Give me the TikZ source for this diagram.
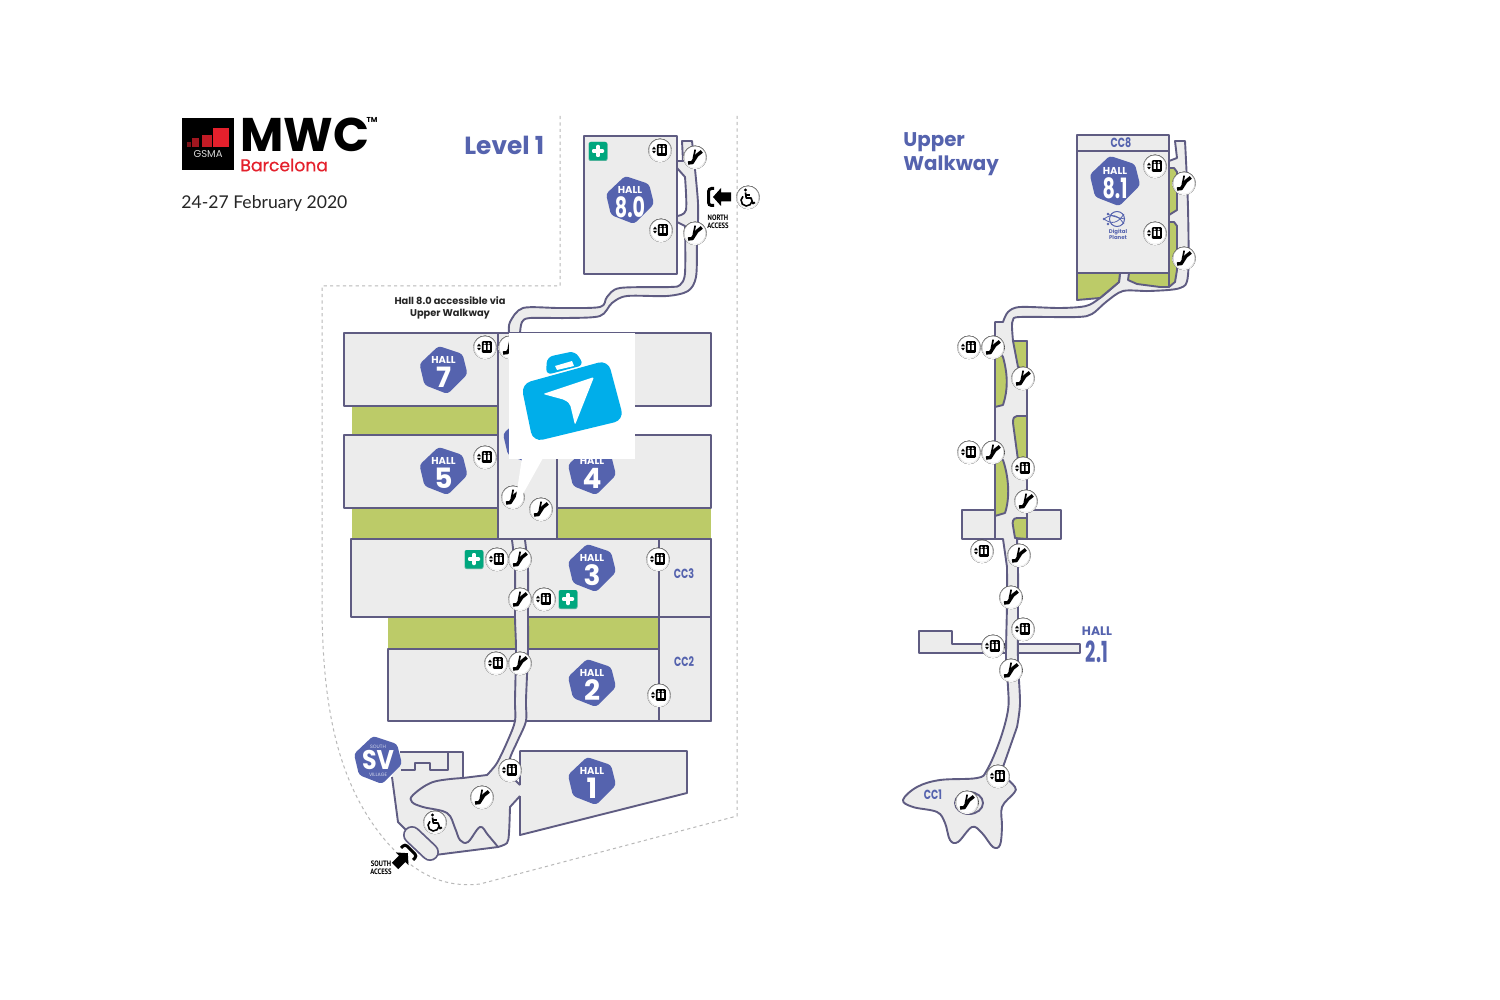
\documentclass[tikz,border=0pt]{standalone}
\usepackage{graphicx}
\usepackage{fontspec}
\setmainfont{Poppins}
\newfontfamily\cond{PT Sans}
\newfontfamily\lat{Lato}
\newfontfamily\popm[FakeBold=0.35]{Poppins}
\definecolor{hallgray}{HTML}{ECECEC}
\definecolor{edgec}{HTML}{5F5C82}
\definecolor{blueb}{HTML}{5563AE}
\definecolor{greenz}{HTML}{BCCB68}
\definecolor{plusg}{HTML}{00A77E}
\definecolor{shade}{HTML}{C4C4C4}
\definecolor{caseblue}{HTML}{00AEEA}
\definecolor{mwcred}{HTML}{E4202C}
\newcommand\fs[1]{\fontsize{#1}{#1}\selectfont}
\newcommand\fsb[2]{\fontsize{#1}{#2}\selectfont}
\tikzset{
  hallbox/.style={fill=hallgray,draw=edgec,line width=0.95pt,line join=round},
  hline/.style={draw=edgec,line width=0.95pt,line join=round},
  greenbox/.style={fill=greenz},
  greenedge/.style={fill=greenz,draw=edgec,line width=0.95pt,line join=round},
  bound/.style={draw=black!28,line width=0.5pt,dash pattern=on 1.6pt off 1.6pt},
  bluet/.style={text=blueb,inner sep=0pt,font=\bfseries},
  cclabel/.style={text=blueb,inner sep=0pt,font=\bfseries\fs{6.6},xscale=0.72},
  lift/.pic={
    \fill[shade] (0,0.4) circle (11.8);
    \fill[white] (0,0) circle (10.6);
    \fill[black,rounded corners=0.5pt] (-3.2,-5.8) rectangle (6.8,5.8);
    \fill[white] (-1.4,-2.2) rectangle (0.8,2.8) (2.6,-2.2) rectangle (4.8,2.8);
    \fill[white] (-0.3,-3.6) circle (1.1) (3.7,-3.6) circle (1.1);
    \fill[black] (-8,-0.7) -- (-6,-3.4) -- (-4,-0.7) -- cycle;
    \fill[black] (-8,0.8) -- (-6,3.5) -- (-4,0.8) -- cycle;
  },
  esc/.pic={
    \fill[shade] (0,0.4) circle (11.8);
    \fill[white] (0,0) circle (10.6);
    \draw[black,line width=1.7pt,line join=round] (-7,6) -- (-2.8,5.6) -- (1.8,-1.6) -- (6.8,-5.6);
    \draw[black,line width=0.85pt] (-1.6,1.5) -- (0.2,-7.4);
  },
  wheel/.pic={
    \fill[shade] (0,0.4) circle (11.8);
    \fill[white] (0,0) circle (10.6);
    \fill[black] (-2.5,-7) circle (1.7);
    \draw[black,line width=0.85pt,line join=round] (-2.5,-4.5) -- (-1.8,1) -- (3,1) -- (5,6.5) -- (7,5.5);
    \draw[black,line width=0.65pt] (-2.2,-2) -- (2,-2);
    \draw[black,line width=0.8pt] (-5,-0.7) arc[start angle=-130,end angle=-350,radius=5.5];
  },
  plussign/.pic={
    \fill[plusg!60!shade,rounded corners=1pt] (-9.5,-9) rectangle (9.5,10);
    \fill[plusg,rounded corners=1pt] (-9,-9) rectangle (9,9);
    \fill[white,rounded corners=0.5pt] (-1.8,-6) rectangle (1.8,6) (-6,-1.8) rectangle (6,1.8);
  },
  access/.pic={
    \fill[black] (-4,0) -- (4,-9) -- (4,-4.5) -- (14,-4.5) -- (14,4.5) -- (4,4.5) -- (4,9) -- cycle;
    \draw[black,line width=1.5pt,rounded corners=1.5pt] (-3,-8.5) -- (-8.5,-8.5) -- (-8.5,8.5) -- (-3,8.5);
  }
}
\newcommand\hallbadge[6]{% name x y scale word number
  \begin{scope}[shift={(#2,#3)},scale=#4]
    \fill[blueb,rounded corners=1.6pt] (-5,-24) -- (19,-16) -- (24,4) -- (4,24) -- (-19,15) -- (-24,-6) -- cycle;
    \node[text=white,inner sep=0pt,font=\bfseries\fs{5.0}] (#1w) at (0,-10) {#5};
    \node[text=white,inner sep=0pt,font=\bfseries\fs{14}] (#1n) at (0,7) {#6};
  \end{scope}}
\begin{document}
\begin{tikzpicture}[x=0.5pt,y=-0.5pt]
\useasboundingbox (0,0) rectangle (1500,1000);
\fill[white] (0,0) rectangle (1500,1000);

% logo
\fill[black] (182,118) rectangle (234,170);
\fill[mwcred!55!black] (186.7,142) rectangle (190.7,146.7);
\fill[mwcred!70!black] (192,138.3) rectangle (199.3,146.7);
\fill[mwcred!85!black] (201.7,135) rectangle (211.7,146.7);
\fill[mwcred] (213.3,128.3) rectangle (229,146.7);
\node[text=white!85!black,inner sep=0pt,font=\fs{5}] (gsma) at (208,154) {GSMA};
\node[anchor=west,inner sep=0pt,font=\bfseries\fs{23.6}] (mwc) at (240,135) {MWC};
\node[inner sep=0pt,font=\bfseries\fs{3.6}] (tm) at (372,120) {TM};
\node[anchor=west,inner sep=0pt,text=mwcred,font=\popm\fs{8.6}] (barca) at (240,165) {Barcelona};
\node[anchor=west,inner sep=0pt,text=black!85,font=\lat\fs{8.8}] (date) at (181,204) {24-27 February 2020};
\node[anchor=west,bluet,font=\bfseries\fs{12.4}] (level) at (464,145) {Level 1};
\node[anchor=west,bluet,font=\bfseries\fs{9.9}] (upa) at (903,142) {Upper};
\node[anchor=west,bluet,font=\bfseries\fs{9.9}] (upb) at (903,166) {Walkway};

% boundary
\draw[bound] (560,116) -- (560,286) -- (322,286) -- (322,600)
  .. controls (322,700) and (335,780) .. (385,840) .. controls (415,875) and (445,888) .. (480,884) -- (737,816) -- (737,116);

% walkway to hall 8.0
\draw[hallbox] plot[smooth] coordinates {(520,333)(522,322)(530,318)(567,318)(600,316)(612,303)(627,296)(667,296)(688,291)(696,277)(697,243)(698,203)(692,141)}
  -- (682,141) -- (683,161) -- (677,161) -- (677,168) -- plot[smooth] coordinates {(685,177)(686,210)(677,216)}
  -- (677,222) -- plot[smooth] coordinates {(685,226)(685,273)(680,285)(670,287)(620,288)(607,297)(600,307)(560,308)(523,308)(510,322)(509,333)} -- cycle;

% halls level 1
\draw[hallbox] (584,136) rectangle (677,274);
\fill[greenbox] (352,406) rectangle (498,435);
\fill[greenbox] (352,508) rectangle (498,539);
\fill[greenbox] (557,508) rectangle (711,539);
\fill[greenbox] (388,617) rectangle (659,649);
\draw[hallbox] (344,333) rectangle (498,406);
\draw[hallbox] (344,435) rectangle (498,508);
\draw[hallbox] (557,333) rectangle (711,406);
\draw[hallbox] (557,435) rectangle (711,508);
\draw[hallbox] (498,333) rectangle (557,539);
\draw[hallbox] (351,539) rectangle (711,617);
\draw[hallbox] (388,649) rectangle (711,721);
\draw[hallbox] (659,539) rectangle (711,617);
\draw[hallbox] (659,617) rectangle (711,721);
\draw[hallbox] (388,649) -- (659,649);
\fill[hallgray] (520,751) -- (687,751) -- (687,793) -- (520,835) -- cycle;
\draw[hline] (520,785) -- (520,751) -- (687,751) -- (687,793) -- (520,835) -- (520,796);

% south concourse and central walkway
\fill[hallgray] plot[smooth] coordinates {(525,540)(528,570)(528,617)(528,650)(526,700)(526,721)(518,740)(510,758)(508,773)} -- (520,785) -- (520,796)
  -- plot[smooth] coordinates {(510,807)(509,833)(507,843)(498,847)} -- (435,855) -- (408,832) -- (398,822) -- (392,777) -- (400,752) -- (463,752) -- (463,778)
  -- plot[smooth] coordinates {(487,775)(497,763)(508,740)(515,721)(515,700)(516,650)(515,617)(515,570)(512,540)} -- cycle;
\draw[hline] plot[smooth] coordinates {(525,540)(528,570)(528,617)(528,650)(526,700)(526,721)(518,740)(510,758)(508,773)} -- (520,785);
\draw[hline] (520,796) -- plot[smooth] coordinates {(510,807)(509,833)(507,843)(498,847)} -- (435,855);
\draw[hline] (408,832) -- (398,822) -- (392,777) (400,752) -- (463,752) -- (463,778)
  -- plot[smooth] coordinates {(487,775)(497,763)(508,740)(515,721)(515,700)(516,650)(515,617)(515,570)(512,540)};
\draw[hline] plot[smooth,tension=0.6] coordinates {(463,778)(433,782)(413,795)(412,802)(423,807)(447,813)(455,828)(460,840)(468,842)(480,827)(488,835)(498,847)};
\draw[hline] (448,752) -- (448,770) -- (430,770) -- (430,763) -- (415,763) -- (415,770) -- (401,770);
\draw[edgec,line width=9pt,line cap=round] (412,835) -- (430,852);
\draw[hallgray,line width=7.2pt,line cap=round] (412,835) -- (430,852);

% level 1 badges
\hallbadge{h80}{630}{200}{1}{HALL}{\scalebox{.68}[1]{8.0}}
\hallbadge{h7}{443.5}{370}{1}{HALL}{7}
\hallbadge{h5}{443.5}{471}{1}{HALL}{5}
\hallbadge{h6}{527}{440}{1}{HALL}{6}
\hallbadge{h4}{592}{471}{1}{HALL}{4}
\hallbadge{h3}{592}{568}{1}{HALL}{3}
\hallbadge{h2}{592}{683}{1}{HALL}{2}
\hallbadge{h1}{592}{781}{1}{HALL}{1}
\begin{scope}[shift={(378,760)}]
  \fill[blueb,rounded corners=1.6pt] (-5,-24) -- (19,-16) -- (24,4) -- (4,24) -- (-19,15) -- (-24,-6) -- cycle;
  \node[text=white!75!blueb,inner sep=0pt,font=\fs{2.4}] (sva) at (0,-13.5) {SOUTH};
  \node[text=white,inner sep=0pt,font=\bfseries\fs{13.5},xscale=0.88] (svb) at (0,0) {SV};
  \node[text=white!75!blueb,inner sep=0pt,font=\fs{2.4}] (svc) at (0,14.5) {VILLAGE};
\end{scope}

% level 1 texts
\node[align=center,inner sep=0pt,text=black!85,font=\bfseries\fsb{4.9}{6.3}] (acc) at (450,308) {Hall 8.0 accessible via\\Upper Walkway};
\node[cclabel] (cc3) at (684,574) {CC3};
\node[cclabel] (cc2) at (684,662) {CC2};
\node[align=center,inner sep=0pt,font=\cond\bfseries\fsb{3.9}{4.1},xscale=0.85] (north) at (718,222) {NORTH\\ACCESS};
\node[align=center,inner sep=0pt,font=\cond\bfseries\fsb{3.9}{4.1},xscale=0.85] (south) at (381,868) {SOUTH\\ACCESS};
\pic at (717,197) {access};
\pic[rotate=-135] at (405,856) {access};

% level 1 icons
\foreach \p in {(660,150),(661,230),(485,347),(485,457),(497,559),(544,599),(658,559),(659,695),(496,663),(510,770)} \pic at \p {lift};
\foreach \p in {(695,157),(695,233),(510,347),(513,497),(541,509),(520,559),(520,599),(520,663),(482,797)} \pic at \p {esc};
\foreach \p in {(748,197),(435,822)} \pic at \p {wheel};
\foreach \p in {(598,151),(474,559),(568,599)} \pic at \p {plussign};

% callout
\fill[white] (509,333) rectangle (635,459);
\fill[white] (522,458) -- (514,510) -- (543,458) -- cycle;
\fill[caseblue,rounded corners=3pt] (546,375) -- (547,357) -- (575,351) -- (584,365) -- cycle;
\fill[white] (555,366) -- (572,361) -- (574,366) -- (557,370) -- cycle;
\fill[caseblue,rounded corners=5pt] (521,384) -- (608,360) -- (624,420) -- (533,442) -- cycle;
\fill[white,rounded corners=1pt] (594,377) -- (543,394) -- (565,400) -- (570,404) -- (575,425) -- cycle;

% upper walkway
\draw[hallbox] (919,631) -- (952,631) -- (952,644) -- (1080,644) -- (1080,653) -- (919,653) -- cycle;
\draw[hallbox] (962,510) rectangle (995,539);
\draw[hallbox] (1027,510) rectangle (1061,539);
\draw[hallbox] plot[smooth] coordinates {(1013,341)(1012,327)(1013,320)(1020,317)(1077,317)(1092,314)(1106,302)(1123,291)(1150,291)(1180,288)(1188,275)(1188,208)(1185,141)}
  -- (1175,141) -- (1177,158) -- (1169,161) -- (1169,273) -- (1120,273)
  -- plot[smooth] coordinates {(1119,282)(1100,298)(1086,306)(1060,308)(1020,307)(1008,312)(1003,322)}
  -- (995,322) -- (995,539) -- (1003,539)
  -- plot[smooth,tension=0.6] coordinates {(1007,567)(1007,603)(1006,660)(1008,687)(1008,710)(1000,740)(987,770)(977,778)(940,780)(917,787)(903,800)(913,807)(937,812)(945,823)(950,840)(958,842)(972,827)(982,833)(993,847)(1000,845)(1002,827)(1002,807)(1014,793)(1015,787)(1005,777)}
  -- (1003,767) -- plot[smooth] coordinates {(1017,727)(1020,703)(1018,660)(1018,603)(1018,570)(1017,539)}
  -- (1027,539) -- (1027,341) -- cycle;
\draw[hallbox] (969,803) ellipse (14 and 11);
% green areas of the upper walkway
\draw[greenedge] (1013,341) -- (1027,341) -- (1027,370) -- (1018,367) -- cycle;
\draw[greenedge] (995,352) .. controls (1000,354) and (1003,356) .. (1003,357) .. controls (1008,375) and (1008,390) .. (1003,405) -- (995,407) -- cycle;
\draw[greenedge] (1013,423) .. controls (1013,418) and (1014,416) .. (1017,416) -- (1027,416) -- (1027,480) -- (1018,460) -- cycle;
\draw[greenedge] (995,457) -- (1003,460) .. controls (1009,478) and (1010,498) .. (1005,513) -- (995,516) -- cycle;
\draw[greenedge] (1027,518) -- (1017,518) .. controls (1013,518) and (1012,522) .. (1013,526) -- (1015,538) -- (1027,539) -- cycle;
\draw[greenedge] (1077,273) -- (1120,273) -- (1119,282) -- (1100,298) -- (1077,300) -- cycle;
\draw[greenedge] (1129,273) -- (1128,280) -- (1137,284) -- (1160,287) -- (1169,287) -- (1169,273) -- cycle;
\draw[greenedge] (1169,168) -- (1174,168) -- (1177,172) -- (1177,210) -- (1169,215) -- cycle;
\draw[greenedge] (1169,222) -- (1174,222) -- (1177,226) -- (1177,270) -- (1175,282) -- (1169,287) -- cycle;
% hall 8.1
\draw[hallbox] (1077,135) rectangle (1169,273);
\draw[hline] (1077,151) -- (1169,151);
\hallbadge{h81}{1115}{181}{1.05}{HALL}{\scalebox{.68}[1]{8.1}}
\node[cclabel] (cc8) at (1121,143) {CC8};
\node[cclabel] (cc1) at (933,795) {CC1};
\node[bluet,font=\bfseries\fs{6.2}] (h21a) at (1097,631) {HALL};
\node[bluet,font=\bfseries\fs{14.5},xscale=0.62] (h21b) at (1097,652) {2.1};
% digital planet
\draw[blueb,line width=0.5pt] (1117,219) circle (7.5);
\draw[blueb,line width=0.4pt] (1104,219) .. controls (1112,213) and (1118,215) .. (1124,224);
\draw[blueb,line width=0.4pt] (1104,219) .. controls (1112,225) and (1118,223) .. (1124,214);
\draw[blueb,line width=0.4pt] (1107,214) .. controls (1113,216) and (1118,218) .. (1125,219);
\foreach \p in {(1104,219),(1108,214),(1108,224)} \fill[blueb] \p circle (1.3);
\node[align=center,bluet,font=\bfseries\fsb{2.7}{3}] (dp) at (1118,234.5) {Digital\\Planet};

% upper walkway icons
\foreach \p in {(1155,166),(1155,233),(969,347),(969,452),(1023,468),(982,551),(1023,629),(993,646),(998,776)} \pic at \p {lift};
\foreach \p in {(1184,183),(1184,258),(993,347),(1023,378),(993,452),(1026,501),(1019,555),(1011,597),(1011,670),(967,802)} \pic at \p {esc};
\end{tikzpicture}
\end{document}
